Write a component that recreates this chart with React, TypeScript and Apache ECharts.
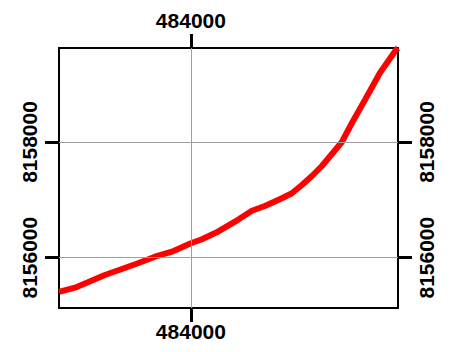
import React, { useEffect, useRef } from "react";
import * as echarts from "echarts";

const xTicks = [484000];
const yTicks = [8156000, 8158000];
const xRange = [481720, 487580];
const yRange = [8155130, 8159625];

const eastings = [
  481720, 481995, 482220, 482513, 482807, 483084, 483378, 483672, 484000,
  484190, 484467, 484761, 485054, 485279, 485573, 485746, 485919, 486092,
  486264, 486351, 486610, 486783, 487008, 487267, 487544, 487580,
];
const northings = [
  8155407, 8155481, 8155575, 8155701, 8155805, 8155903, 8156017, 8156104,
  8156249, 8156318, 8156449, 8156622, 8156812, 8156894, 8157027, 8157113,
  8157257, 8157412, 8157585, 8157689, 8158000, 8158328, 8158726, 8159193,
  8159590, 8159625,
];

const font = "Liberation Sans";

export default function App() {
  const ref = useRef<HTMLDivElement>(null);
  useEffect(() => {
    if (!ref.current) return;
    const chart = echarts.init(ref.current, null, { renderer: "svg" });
    const pts = eastings.map((x, i) => [x, northings[i]]);
    const tickStyle = { show: true, inside: false, length: 14, lineStyle: { color: "#000", width: 3 } };
    const lineStyle = { show: true, lineStyle: { color: "#000", width: 2 } };
    const label = (margin: number, rotate = 0) => ({
      show: true,
      margin,
      rotate,
      color: "#000",
      fontSize: 21,
      fontWeight: "bold" as const,
      fontFamily: font,
      formatter: (v: number) => String(v),
    });
    const xAx = (pos: "top" | "bottom", margin: number) => ({
      type: "value" as const,
      position: pos,
      min: xRange[0],
      max: xRange[1],
      axisLine: { ...lineStyle, onZero: false },
      axisTick: { ...tickStyle, customValues: xTicks },
      axisLabel: { ...label(margin), customValues: xTicks },
      splitLine: { show: false },
    });
    const yAx = (pos: "left" | "right", margin: number) => ({
      type: "value" as const,
      position: pos,
      min: yRange[0],
      max: yRange[1],
      axisLine: { ...lineStyle, onZero: false },
      axisTick: { ...tickStyle, customValues: yTicks },
      axisLabel: { ...label(margin, 90), customValues: yTicks },
      splitLine: { show: false },
    });
    chart.setOption({
      animation: false,
      grid: { left: 59, top: 48, right: 57, bottom: 44, containLabel: false },
      xAxis: [xAx("bottom", 13), xAx("top", 17)],
      yAxis: [yAx("left", 19), yAx("right", 18)],
      series: [
        {
          type: "line",
          z: 1,
          xAxisIndex: 0,
          yAxisIndex: 0,
          data: pts,
          showSymbol: false,
          lineStyle: { opacity: 0 },
          silent: true,
          markLine: {
            silent: true,
            symbol: "none",
            label: { show: false },
            lineStyle: { color: "#a0a0a0", width: 1, type: "solid" },
            data: [
              ...xTicks.map((v) => ({ xAxis: v })),
              ...yTicks.map((v) => ({ yAxis: v })),
            ],
          },
        },
        {
          type: "line",
          z: 3,
          xAxisIndex: 0,
          yAxisIndex: 0,
          data: pts,
          showSymbol: false,
          smooth: false,
          lineStyle: { color: "#ff0000", width: 6, type: "solid" },
        },
      ],
    });
    return () => chart.dispose();
  }, []);
  return (
    <div
      ref={ref}
      style={{ position: "fixed", left: 0, top: 0, width: 455, height: 352, background: "#fff" }}
    />
  );
}
